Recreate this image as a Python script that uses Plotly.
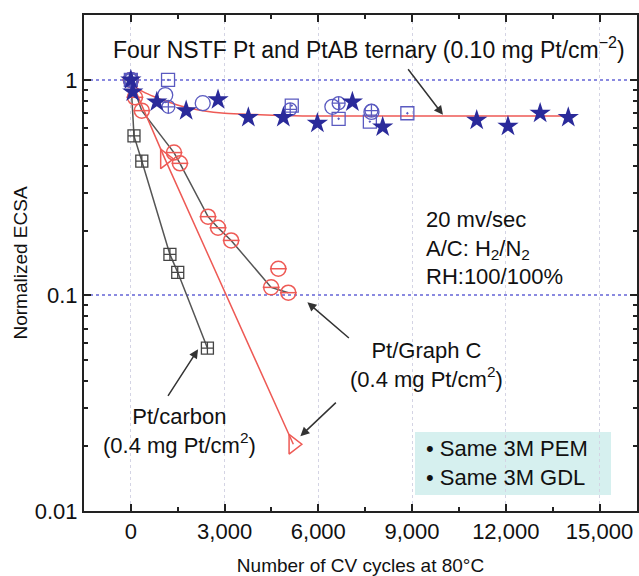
import plotly.graph_objects as go

# ---------------- data ----------------
carbon_x = [0, 100, 350, 1250, 1500, 2450]
carbon_y = [1.0, 0.55, 0.42, 0.155, 0.128, 0.057]

graph_x = [0, 130, 350, 1380, 1570, 2470, 2790, 3210, 4490, 4720, 5040]
graph_y = [1.0, 0.83, 0.72, 0.46, 0.41, 0.232, 0.206, 0.18, 0.109, 0.133, 0.103]
graph_line_x = [0, 350, 1380, 1570, 2470, 2790, 3210, 4490, 5040]
graph_line_y = [1.0, 0.72, 0.46, 0.41, 0.232, 0.206, 0.18, 0.109, 0.103]

tri_x = [0, 1090, 5200]
tri_y = [1.0, 0.43, 0.0204]

star_x = [0, 60, 830, 1770, 2790, 3760, 4880, 5970, 7090, 8060, 11070, 12070, 13100, 14000]
star_y = [1.0, 0.88, 0.79, 0.72, 0.81, 0.67, 0.67, 0.63, 0.79, 0.605, 0.65, 0.61, 0.70, 0.67]

circ_x = [0, 1100, 2300, 6450, 7700]
circ_y = [1.0, 0.85, 0.78, 0.75, 0.71]

sq_x = [0, 1190, 5150, 6650, 7650, 8850]
sq_y = [1.0, 1.0, 0.76, 0.66, 0.64, 0.70]

dia_x = [0, 1200, 5100, 6650, 7700]
dia_y = [1.0, 0.75, 0.73, 0.78, 0.72]

fit_x = [0, 150, 400, 800, 1200, 1700, 2300, 3000, 4000, 5500, 8000, 14000]
fit_y = [1.0, 0.93, 0.88, 0.83, 0.79, 0.75, 0.72, 0.70, 0.69, 0.68, 0.68, 0.68]

x_ticks = [0, 3000, 6000, 9000, 12000, 15000]
x_ticktext = ["0", "3,000", "6,000", "9,000", "12,000", "15,000"]
y_ticks = [0.01, 0.1, 1]
y_ticktext = ["0.01", "0.1", "1"]

RED = "#ee5a55"
GREY = "#555555"
BLUE = "#2a2a9a"
LBLUE = "#5a5ac0"
FONT = "Liberation Sans, Arial, sans-serif"
ANN = 22

fig = go.Figure()

# lines
fig.add_trace(go.Scatter(x=carbon_x, y=carbon_y, mode="lines",
                         line=dict(color=GREY, width=1.5), showlegend=False))
fig.add_trace(go.Scatter(x=graph_line_x, y=graph_line_y, mode="lines",
                         line=dict(color=GREY, width=1.5), showlegend=False))
fig.add_trace(go.Scatter(x=tri_x, y=tri_y, mode="lines",
                         line=dict(color=RED, width=1.5), showlegend=False))
fig.add_trace(go.Scatter(x=fit_x, y=fit_y, mode="lines", line_shape="spline",
                         line=dict(color=RED, width=1.5), showlegend=False))

# markers
fig.add_trace(go.Scatter(x=carbon_x, y=carbon_y, mode="markers",
                         marker=dict(symbol="square-cross-open", size=12,
                                     color="#444444", line=dict(width=1.3)),
                         showlegend=False))
fig.add_trace(go.Scatter(x=graph_x, y=graph_y, mode="markers",
                         marker=dict(symbol="circle-open", size=15,
                                     color=RED, line=dict(width=1.5)),
                         showlegend=False))
fig.add_trace(go.Scatter(x=graph_x, y=graph_y, mode="markers",
                         marker=dict(symbol="line-ew-open", size=12,
                                     color=RED, line=dict(width=1.5, color=RED)),
                         showlegend=False))
fig.add_trace(go.Scatter(x=tri_x[1:], y=tri_y[1:], mode="markers",
                         marker=dict(symbol="triangle-right-open", size=17,
                                     color=RED, line=dict(width=1.5)),
                         showlegend=False))
fig.add_trace(go.Scatter(x=circ_x, y=circ_y, mode="markers",
                         marker=dict(symbol="circle-open", size=15,
                                     color=LBLUE, line=dict(width=1.3)),
                         showlegend=False))
fig.add_trace(go.Scatter(x=sq_x, y=sq_y, mode="markers",
                         marker=dict(symbol="square-open-dot", size=13,
                                     color=LBLUE, line=dict(width=1.3)),
                         showlegend=False))
fig.add_trace(go.Scatter(x=dia_x, y=dia_y, mode="markers",
                         marker=dict(symbol="circle-cross-open", size=13,
                                     color=LBLUE, line=dict(width=1.3)),
                         showlegend=False))
fig.add_trace(go.Scatter(x=star_x, y=star_y, mode="markers",
                         marker=dict(symbol="star", size=16, color=BLUE,
                                     line=dict(width=0)),
                         showlegend=False))

annotations = [
    dict(x=7610, y=0.148, xref="x", yref="y", showarrow=False,
         text="Four NSTF Pt and PtAB ternary (0.10 mg Pt/cm<sup>−2</sup>)",
         font=dict(size=23, color="#111111", family=FONT)),
    dict(x=9370, y=-0.78, xref="x", yref="y", showarrow=False, xanchor="left",
         align="left",
         text="20 mv/sec<br>A/C: H<sub>2</sub>/N<sub>2</sub><br>RH:100/100%",
         font=dict(size=ANN, color="#111111", family=FONT)),
    dict(x=9470, y=-1.324, xref="x", yref="y", showarrow=False,
         text="Pt/Graph C<br>(0.4 mg Pt/cm<sup>2</sup>)",
         font=dict(size=ANN, color="#111111", family=FONT)),
    dict(x=1570, y=-1.63, xref="x", yref="y", showarrow=False,
         text="Pt/carbon<br>(0.4 mg Pt/cm<sup>2</sup>)",
         font=dict(size=ANN, color="#111111", family=FONT)),
    dict(x=(424 - 84) / 553, y=(511 - 463) / 496, xref="paper", yref="paper",
         showarrow=False, xanchor="left", yanchor="middle", align="left",
         text="• Same 3M PEM<br>• Same 3M GDL",
         font=dict(size=ANN, color="#111111", family=FONT)),
]
arrows = [
    (9990, -0.162, -36, -47),
    (5650, -1.032, 43, 37),
    (5425, -1.653, 37, -35),
    (2150, -1.25, -31, 48),
]
for x, y, ax, ay in arrows:
    annotations.append(dict(x=x, y=y, xref="x", yref="y", ax=ax, ay=ay,
                            axref="pixel", ayref="pixel", text="",
                            showarrow=True, arrowhead=2, arrowsize=1.2,
                            arrowwidth=1.5, arrowcolor="#333333"))

fig.update_layout(
    width=639, height=576,
    margin=dict(l=84, r=2, t=15, b=65),
    paper_bgcolor="white", plot_bgcolor="white",
    font=dict(family=FONT, size=18, color="#111111"),
    annotations=annotations,
    shapes=[dict(type="rect", xref="paper", yref="paper",
                 x0=(415 - 84) / 553, x1=(611 - 84) / 553,
                 y0=(511 - 495) / 496, y1=(511 - 432) / 496,
                 fillcolor="#d6f0ef", line=dict(width=0), layer="below")],
)

fig.update_xaxes(
    range=[-1500, 16200], automargin=False,
    tickvals=x_ticks, ticktext=x_ticktext,
    ticks="inside", ticklen=7, tickwidth=1.5, tickcolor="#222222",
    minor=dict(dtick=1500, tick0=0, ticks="inside", ticklen=4,
               tickcolor="#222222", showgrid=False),
    showline=True, linecolor="#222222", linewidth=2, mirror="allticks",
    showgrid=True, gridcolor="#d4d4e4", griddash="dot", gridwidth=1,
    zeroline=False,
    title=dict(text="Number of CV cycles at 80°C", font=dict(size=19), standoff=16),
    tickfont=dict(size=22),
)
minor_y = [m * 10 ** e for e in (-2, -1, 0) for m in range(2, 10)]
fig.update_yaxes(
    type="log", range=[-2, 0.301], automargin=False,
    tickvals=y_ticks, ticktext=y_ticktext,
    ticks="inside", ticklen=7, tickwidth=1.5, tickcolor="#222222",
    minor=dict(tickmode="array", tickvals=minor_y, ticks="inside", ticklen=4,
               tickcolor="#222222", showgrid=False),
    showline=True, linecolor="#222222", linewidth=2, mirror="allticks",
    showgrid=True, gridcolor="#8a8ae0", griddash="dot", gridwidth=1.5,
    zeroline=False,
    title=dict(text="Normalized ECSA", font=dict(size=19), standoff=2),
    tickfont=dict(size=22),
)

fig.write_html("out.html")
